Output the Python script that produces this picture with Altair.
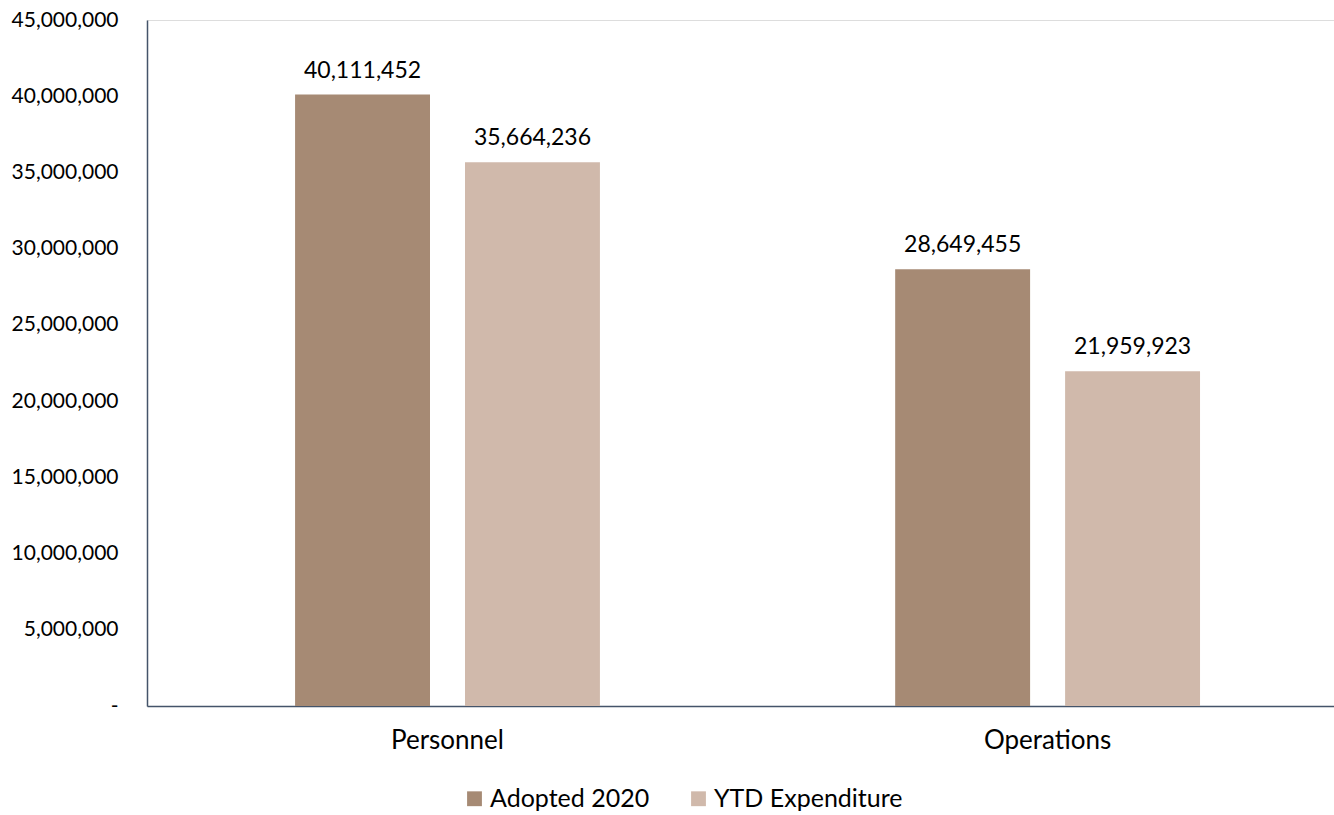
import altair as alt
import pandas as pd

categories = ["Personnel", "Operations"]
series = ["Adopted 2020", "YTD Expenditure"]
adopted = [40111452, 28649455]
ytd = [35664236, 21959923]
colors = ["#A68A74", "#D0B9AB"]

rows = []
for i, c in enumerate(categories):
    rows.append({"category": c, "series": series[0], "value": adopted[i], "order": 0})
    rows.append({"category": c, "series": series[1], "value": ytd[i], "order": 1})
df = pd.DataFrame(rows)

FONT = "Lato"

x = alt.X("category:N", sort=categories, title=None,
          scale=alt.Scale(paddingInner=0.492, paddingOuter=0.235, align=0.525),
          axis=alt.Axis(labelAngle=0, labelFontSize=26, labelColor="#000000", labelFont=FONT,
                        ticks=False, domainColor="#44546A", domainWidth=1.5, labelPadding=21))
xo = alt.XOffset("series:N", sort=series,
                 scale=alt.Scale(paddingInner=0.206, paddingOuter=0))
y = alt.Y("value:Q", title=None,
          scale=alt.Scale(domain=[0, 45000000], nice=False),
          axis=alt.Axis(values=list(range(0, 45000001, 5000000)), grid=False, ticks=False,
                        labelFontSize=21, labelColor="#000000", labelFont=FONT,
                        domainColor="#44546A", domainWidth=1.5, labelPadding=29,
                        labelExpr="datum.value == 0 ? '-' : format(datum.value, ',')"))

bars = alt.Chart(df).mark_bar().encode(
    x=x, xOffset=xo, y=y,
    color=alt.Color("series:N", sort=series,
                    scale=alt.Scale(domain=series, range=colors),
                    legend=alt.Legend(title=None, orient="none", direction="horizontal",
                                      legendX=315, legendY=766, symbolType="square",
                                      symbolSize=220, symbolStrokeWidth=0, labelFontSize=25,
                                      labelFont=FONT, labelColor="#000000", columnPadding=36,
                                      labelOffset=3, labelLimit=500)),
)

labels = alt.Chart(df).mark_text(dy=-24, fontSize=23, font=FONT, color="#000000").encode(
    x=x, xOffset=xo, y=y,
    text=alt.Text("value:Q", format=","),
)

chart = (bars + labels).properties(
    width=1187, height=686,
    autosize=alt.AutoSizeParams(type="none"),
    padding={"left": 147, "top": 20, "right": 0, "bottom": 109},
).configure_view(stroke=None).configure(background="white")

chart.save("out.html", embed_options={"renderer": "svg", "actions": False})
